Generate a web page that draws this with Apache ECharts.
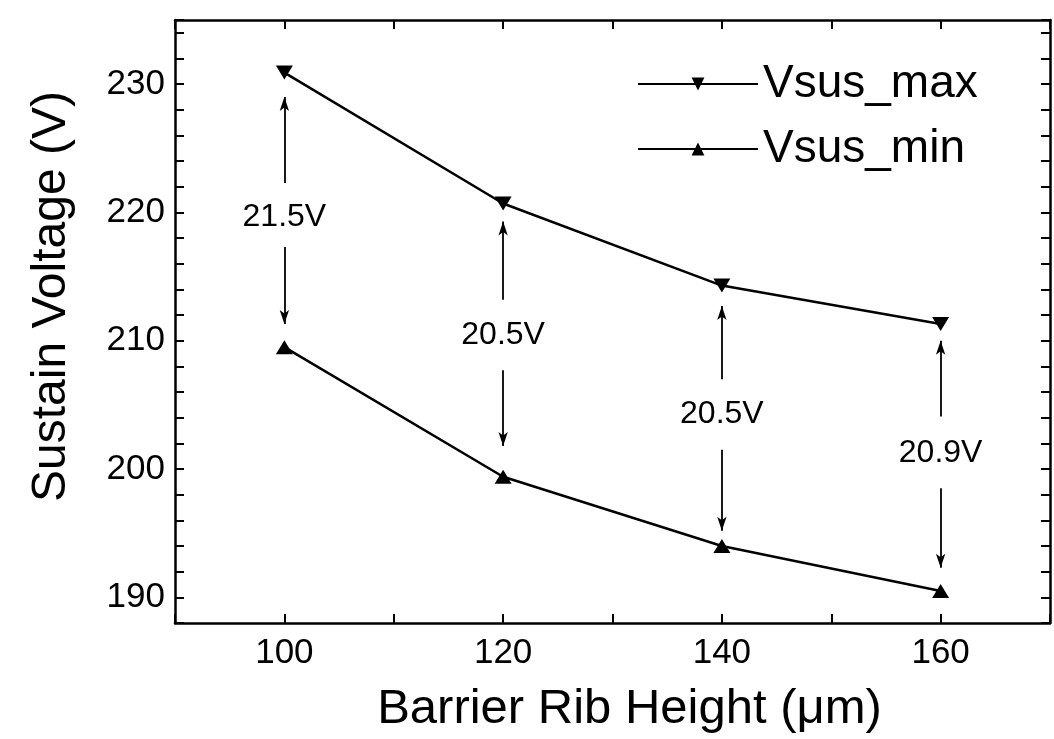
<!DOCTYPE html>
<html>
<head>
<meta charset="utf-8">
<script src="https://cdn.jsdelivr.net/npm/echarts@6/dist/echarts.min.js"></script>
<style>
  html, body { margin: 0; padding: 0; background: #fff; }
  #main { width: 1054px; height: 739px; }
</style>
</head>
<body>
<div id="main"></div>
<script>
var ribHeight = [100, 120, 140, 160]
var vsusMax = [230.9, 220.7, 214.3, 211.3]
var vsusMin = [209.5, 199.4, 194.0, 190.5]

// voltage window annotations (arrows and labels)
var gapLabels = ['21.5V', '20.5V', '20.5V', '20.9V']
var gapLabelY = [219.6, 210.4, 204.3, 201.2]
var arrowUp = [[222.3, 229.0], [213.2, 219.3], [207.0, 212.7], [204.1, 210.0]]
var arrowDown = [[217.3, 211.3], [207.7, 201.8], [201.5, 195.2], [198.5, 192.3]]

var font = '"Liberation Sans", Arial, sans-serif'
var downTri = 'path://M0,0 L10,0 L5,8 Z'
var upTri = 'path://M5,0 L10,8 L0,8 Z'

var arrows = []
ribHeight.forEach(function(x, i) {
  arrows.push([{ coord: [x, arrowUp[i][0]] }, { coord: [x, arrowUp[i][1]] }])
  arrows.push([{ coord: [x, arrowDown[i][0]] }, { coord: [x, arrowDown[i][1]] }])
})

var myChart = echarts.init(document.getElementById('main'))

var axisCommon = {
  type: 'value',
  axisLine: { show: true, lineStyle: { color: '#000', width: 2.5 } },
  axisTick: { show: true, inside: true, length: 9, lineStyle: { color: '#000', width: 2 } },
  splitLine: { show: false }
}

var option = {
  animation: false,
  backgroundColor: '#fff',
  grid: { left: 175, right: 4, top: 20, bottom: 114 },
  legend: {
    orient: 'vertical',
    left: 632,
    top: 56,
    itemWidth: 120,
    itemHeight: 16,
    itemGap: 19,
    data: ['Vsus_max', 'Vsus_min'],
    textStyle: { fontFamily: font, fontSize: 46, color: '#000' }
  },
  xAxis: [
    Object.assign({}, axisCommon, {
      min: 90, max: 170, interval: 10,
      position: 'bottom',
      name: 'Barrier Rib Height (\u03bcm)',
      nameLocation: 'middle',
      nameGap: 62,
      nameTextStyle: { fontFamily: font, fontSize: 49, color: '#000', padding: [0, 0, 0, 34] },
      axisLabel: {
        margin: 13, fontFamily: font, fontSize: 35, color: '#000',
        formatter: function(v) { return v % 20 === 0 ? String(v) : '' }
      }
    }),
    Object.assign({}, axisCommon, {
      min: 90, max: 170, interval: 10,
      position: 'top',
      axisLabel: { show: false }
    })
  ],
  yAxis: [
    Object.assign({}, axisCommon, {
      min: 188, max: 235, interval: 2,
      position: 'left',
      name: 'Sustain Voltage (V)',
      nameLocation: 'middle',
      nameGap: 99,
      nameRotate: 90,
      nameTextStyle: { fontFamily: font, fontSize: 48, color: '#000', padding: [0, 0, 0, 50] },
      axisLabel: {
        margin: 10, fontFamily: font, fontSize: 35, color: '#000',
        formatter: function(v) { return v % 10 === 0 ? String(v) : '' }
      }
    }),
    Object.assign({}, axisCommon, {
      min: 188, max: 235, interval: 2,
      position: 'right',
      axisLabel: { show: false }
    })
  ],
  series: [
    {
      name: 'Vsus_max',
      type: 'line',
      data: ribHeight.map(function(x, i) { return [x, vsusMax[i]] }),
      symbol: downTri,
      symbolSize: [17, 14],
      itemStyle: { color: '#000' },
      lineStyle: { color: '#000', width: 2.5 },
      markLine: {
        silent: true,
        symbol: ['none', 'arrow'],
        symbolSize: [7, 14],
        label: { show: false },
        lineStyle: { color: '#000', width: 1.8, type: 'solid' },
        data: arrows
      }
    },
    {
      name: 'Vsus_min',
      type: 'line',
      data: ribHeight.map(function(x, i) { return [x, vsusMin[i]] }),
      symbol: upTri,
      symbolSize: [17, 14],
      itemStyle: { color: '#000' },
      lineStyle: { color: '#000', width: 2.5 }
    },
    {
      name: 'gap',
      type: 'scatter',
      symbolSize: 0,
      itemStyle: { opacity: 1, color: '#000' },
      data: ribHeight.map(function(x, i) { return { value: [x, gapLabelY[i]], name: gapLabels[i] } }),
      label: {
        show: true, position: 'inside', formatter: '{b}',
        fontFamily: font, fontSize: 32, color: '#000'
      }
    }
  ]
}

myChart.setOption(option)
</script>
</body>
</html>
